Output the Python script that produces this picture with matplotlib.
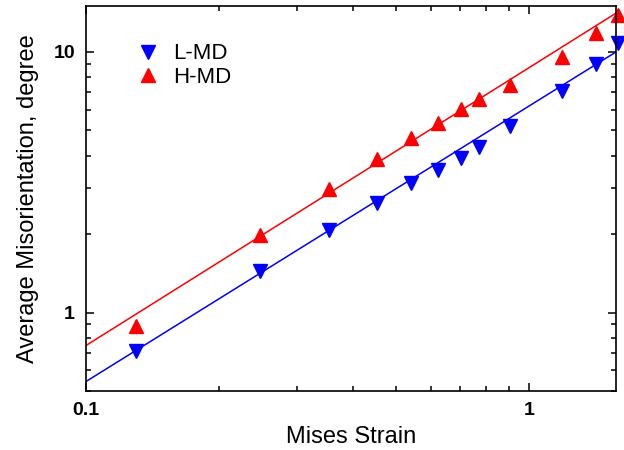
import numpy as np
import matplotlib
matplotlib.use("Agg")
import matplotlib.pyplot as plt
from matplotlib.ticker import LogLocator, FixedLocator, FixedFormatter, NullFormatter

plt.rcParams['font.family'] = ['Liberation Sans', 'DejaVu Sans']

# data
strain_l = [0.13, 0.247, 0.354, 0.454, 0.542, 0.623, 0.702, 0.771, 0.906, 1.187, 1.416, 1.588]
mis_l = [0.71, 1.44, 2.08, 2.64, 3.15, 3.53, 3.92, 4.33, 5.21, 7.09, 9.0, 10.8]

strain_h = [0.13, 0.247, 0.354, 0.454, 0.542, 0.623, 0.702, 0.771, 0.906, 1.187, 1.416, 1.588]
mis_h = [0.89, 1.99, 2.99, 3.89, 4.68, 5.35, 6.05, 6.60, 7.47, 9.57, 11.8, 13.9]

# power-law fits y = A * x^n
fit_l = (6.2, 1.057)
fit_h = (8.7, 1.066)

fig = plt.figure(figsize=(6.24, 4.5), dpi=100)
ax = fig.add_axes([0.1378, 0.1311, 0.8492, 0.8556])

xs = np.logspace(-1, np.log10(1.6), 100)
ax.plot(xs, fit_l[0] * xs ** fit_l[1], color='#0000ff', lw=1.1)
ax.plot(xs, fit_h[0] * xs ** fit_h[1], color='#ff0000', lw=1.1)

ax.plot(strain_l, mis_l, 'v', color='#0000ff', ms=10, label='L-MD', clip_on=False)
ax.plot(strain_h, mis_h, '^', color='#ff0000', ms=10, label='H-MD', clip_on=False)

ax.set_xscale('log')
ax.set_yscale('log')
ax.set_xlim(0.1, 1.57)
ax.set_ylim(0.5, 15)

ax.xaxis.set_major_locator(FixedLocator([0.1, 1]))
ax.xaxis.set_major_formatter(FixedFormatter(['0.1', '1']))
ax.xaxis.set_minor_locator(LogLocator(base=10, subs=np.arange(2, 10)))
ax.xaxis.set_minor_formatter(NullFormatter())
ax.yaxis.set_major_locator(FixedLocator([1, 10]))
ax.yaxis.set_major_formatter(FixedFormatter(['1', '10']))
ax.yaxis.set_minor_locator(LogLocator(base=10, subs=np.arange(2, 10)))
ax.yaxis.set_minor_formatter(NullFormatter())

ax.tick_params(which='both', direction='in', top=True, right=True, width=1.1)
ax.tick_params(which='major', length=6, labelsize=14, pad=8)
ax.tick_params(which='minor', length=3.5)
for lbl in ax.get_xticklabels() + ax.get_yticklabels():
    lbl.set_fontweight('bold')
for s in ax.spines.values():
    s.set_linewidth(1.2)

ax.set_xlabel('Mises Strain', fontsize=17, labelpad=5)
ax.set_ylabel('Average Misorientation, degree', fontsize=17, labelpad=10)

ax.legend(loc='upper left', bbox_to_anchor=(0.045, 0.955), frameon=False,
          fontsize=16, handletextpad=0.35, labelspacing=0.1, handlelength=1.6)

fig.savefig('out.png', dpi=100)
